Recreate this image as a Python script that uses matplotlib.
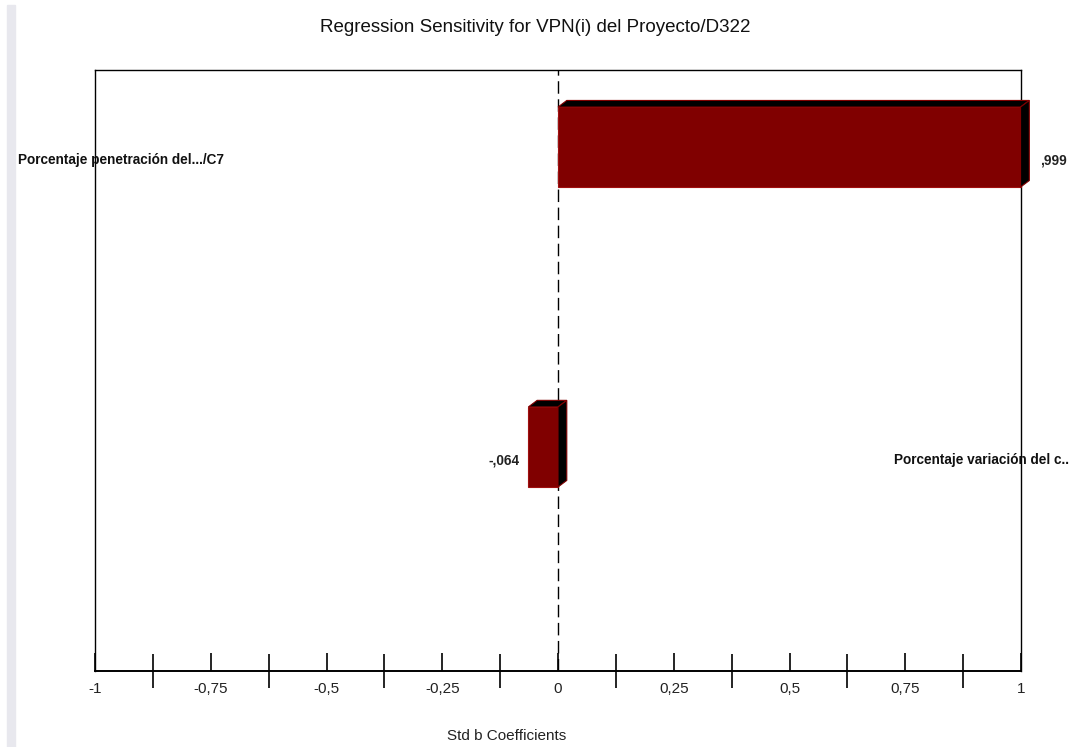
import matplotlib.pyplot as plt
import numpy as np
from matplotlib.patches import Polygon, Rectangle
from matplotlib.transforms import blended_transform_factory, offset_copy

plt.rcParams['font.family'] = ['Liberation Sans', 'DejaVu Sans']

# data
names = ["Porcentaje penetración del.../C7", "Porcentaje variación del c.."]
coefs = [0.999, -0.064]
value_labels = [",999", "-,064"]
tick_vals = [-1, -0.75, -0.5, -0.25, 0, 0.25, 0.5, 0.75, 1]
tick_text = ["-1", "-0,75", "-0,5", "-0,25", "0", "0,25", "0,5", "0,75", "1"]

bar_col = "#800000"
bar_h = 0.267
dx, dy = 0.019, 0.022   # fake 3d depth
lab_fs = 9.8

fig = plt.figure(figsize=(10.81, 7.47), dpi=100)
ax = fig.add_axes([95/1081, 1-671/747, (1021-95)/1081, (671-70)/747])

# grey strip on the left edge
fig.patches.append(Rectangle((7/1081, 0), 8/1081, 1-5/747, transform=fig.transFigure,
                             color="#e8e8ee", zorder=0))

tr = blended_transform_factory(fig.transFigure, ax.transData)
pos = np.arange(len(coefs))
for i, v in enumerate(coefs):
    x0, x1 = min(0, v), max(0, v)
    top, bot = pos[i] - bar_h/2, pos[i] + bar_h/2
    ax.add_patch(Rectangle((x0, top), x1 - x0, bar_h, facecolor=bar_col,
                           edgecolor="#a01010", lw=0.8, zorder=3, clip_on=False))
    ax.add_patch(Polygon([(x0, top), (x0+dx, top-dy), (x1+dx, top-dy), (x1, top)],
                         closed=True, facecolor="black", edgecolor=bar_col, lw=0.8,
                         zorder=3, clip_on=False))
    ax.add_patch(Polygon([(x1, top), (x1+dx, top-dy), (x1+dx, bot-dy), (x1, bot)],
                         closed=True, facecolor="black", edgecolor=bar_col, lw=0.8,
                         zorder=3, clip_on=False))
    # value label and category label
    if v >= 0:
        ax.annotate(value_labels[i], (x1+dx, pos[i]), xytext=(8, -10), textcoords="offset points",
                    ha="left", va="center", fontsize=lab_fs, fontweight="bold", color="#222222",
                    annotation_clip=False)
        ax.text(18/1081, pos[i], names[i], transform=offset_copy(tr, fig=fig, y=-13, units="dots"),
                ha="left", va="center", fontsize=lab_fs, fontweight="bold", color="#111111", zorder=5)
    else:
        ax.annotate(value_labels[i], (x0, pos[i]), xytext=(-6, -10), textcoords="offset points",
                    ha="right", va="center", fontsize=lab_fs, fontweight="bold", color="#222222",
                    annotation_clip=False)
        ax.text(1069/1081, pos[i], names[i], transform=offset_copy(tr, fig=fig, y=-13, units="dots"),
                ha="right", va="center", fontsize=lab_fs, fontweight="bold", color="#111111", zorder=5)

ax.axvline(0, color="black", ls=(0, (9, 4)), lw=1, zorder=2)

ax.set_xlim(-1, 1)
ax.set_ylim(1.747, -0.257)
ax.set_yticks([])
ax.set_xticks(tick_vals)
ax.set_xticklabels(tick_text, fontsize=11, color="#222222")
ax.set_xticks(np.arange(-0.875, 1, 0.25), minor=True)
ax.tick_params(axis="x", which="major", direction="in", length=13, width=1.2, pad=8)
ax.tick_params(axis="x", which="minor", direction="inout", length=25, width=1.2)
for s in ax.spines.values():
    s.set_linewidth(1)
ax.spines["bottom"].set_linewidth(1.4)

fig.text(535/1081, 1-28/747, "Regression Sensitivity for VPN(i) del Proyecto/D322",
         ha="center", va="center", fontsize=13.5, color="#111111")
fig.text(507/1081, 1-736/747, "Std b Coefficients", ha="center", va="center",
         fontsize=11, color="#222222")

fig.savefig("out.png", dpi=100)
